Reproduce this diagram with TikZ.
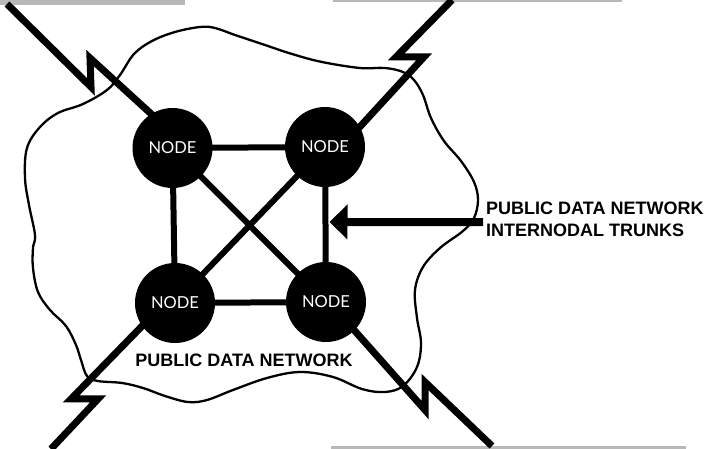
\documentclass[tikz,border=0pt]{standalone}
\usepackage{fontspec}
\newfontfamily\nodefont{Lato}
\newfontfamily\labelfont{Liberation Sans}
\usetikzlibrary{arrows.meta,backgrounds,calc}
\begin{document}
\begin{tikzpicture}[x=1pt,y=-1pt,
  pdnode/.style={circle,fill=black,minimum size=80pt,inner sep=0pt,text=white,
    font=\nodefont\fontsize{16.5}{18}\selectfont},
  trunk/.style={line width=6pt},
  bolt/.style={line width=7pt,line join=miter,miter limit=20},
  cloud/.style={line width=2.3pt},
  caption/.style={font=\labelfont\bfseries\fontsize{18}{22}\selectfont,inner sep=0pt},
  scanedge/.style={fill=black!28,draw=none},
  pointer/.style={line width=8pt,-{Triangle[length=18pt,width=34pt]}}]
\useasboundingbox (0,0) rectangle (716,449);

% switching nodes
\node[pdnode] (tl) at (172.5,148) {NODE};
\node[pdnode] (tr) at (325,147) {NODE};
\node[pdnode] (bl) at (175,303) {NODE};
\node[pdnode] (br) at (326,302) {NODE};

% captions
\node[caption,anchor=base] (pdn) at (244,367) {PUBLIC DATA NETWORK};
\node[caption,anchor=north west,align=left] (lbl) at (486,202)
  {PUBLIC DATA NETWORK\\INTERNODAL TRUNKS};

% corner points of the access lines (lightning jogs)
\coordinate (tlS) at (7,4);
\coordinate (tlB) at (91,87);
\coordinate (tlA) at (90,58);
\coordinate (trS) at (452,0);
\coordinate (trL) at (396,57);
\coordinate (trR) at (424,57);
\coordinate (blL) at (71,399);
\coordinate (blR) at (98,399);
\coordinate (blE) at (51,449);
\coordinate (brB) at (425,410);
\coordinate (brA) at (425,382);
\coordinate (brE) at (492,446);
\coordinate (trunktip) at (329.5,222);

\begin{scope}[on background layer]
  % worn page edges
  \fill[scanedge] (0,0) rectangle (185,5);
  \fill[scanedge] (333,0) rectangle (622,2.5);
  \fill[scanedge] (331,446.5) rectangle (686,449);

  % network boundary
  \draw[cloud] plot[smooth cycle,tension=0.6] coordinates {
    (35,235) (29,205) (25,178) (27,148) (40,127) (58,113) (83,104) (107,90)
    (120,75) (134,54) (152,41) (175,32) (200,27) (215,28) (235,35) (262,44)
    (292,54) (322,62) (360,68) (385,68) (403,72) (414,80) (423,95) (431,118)
    (444,141) (461,161) (474,182) (478,200) (474,218) (463,231) (440,248)
    (423,267) (415,290) (417,318) (421,343) (417,367) (403,386) (385,392)
    (362,389) (333,377) (300,372) (267,378) (233,390) (207,400) (188,402)
    (165,396) (143,388) (122,383) (98,381) (87,376) (81,360) (76,345)
    (66,326) (50,310) (38,292) (33,268) (33,248)};

  % internodal trunks
  \draw[trunk] (tl.center) -- (tr.center);
  \draw[trunk] (bl.center) -- (br.center);
  \draw[trunk] (tl.center) -- (bl.center);
  \draw[trunk] (tr.center) -- (br.center);
  \draw[trunk] (tl.center) -- (br.center);
  \draw[trunk] (tr.center) -- (bl.center);

  % access lines
  \draw[bolt] (tlS) -- (tlB) -- (tlA) -- (tl.122) -- (tl.center);
  \draw[bolt] (trS) -- (trL) -- (trR) -- (tr.30) -- (tr.center);
  \draw[bolt] (bl.center) -- (bl.215) -- (blL) -- (blR) -- (blE);
  \draw[bolt] (br.center) -- (br.315) -- (brB) -- (brA) -- (brE);
\end{scope}

% pointer from caption to trunk
\draw[pointer] ([xshift=-3pt,yshift=-2.5pt]lbl.west) -- (trunktip);
\end{tikzpicture}
\end{document}
